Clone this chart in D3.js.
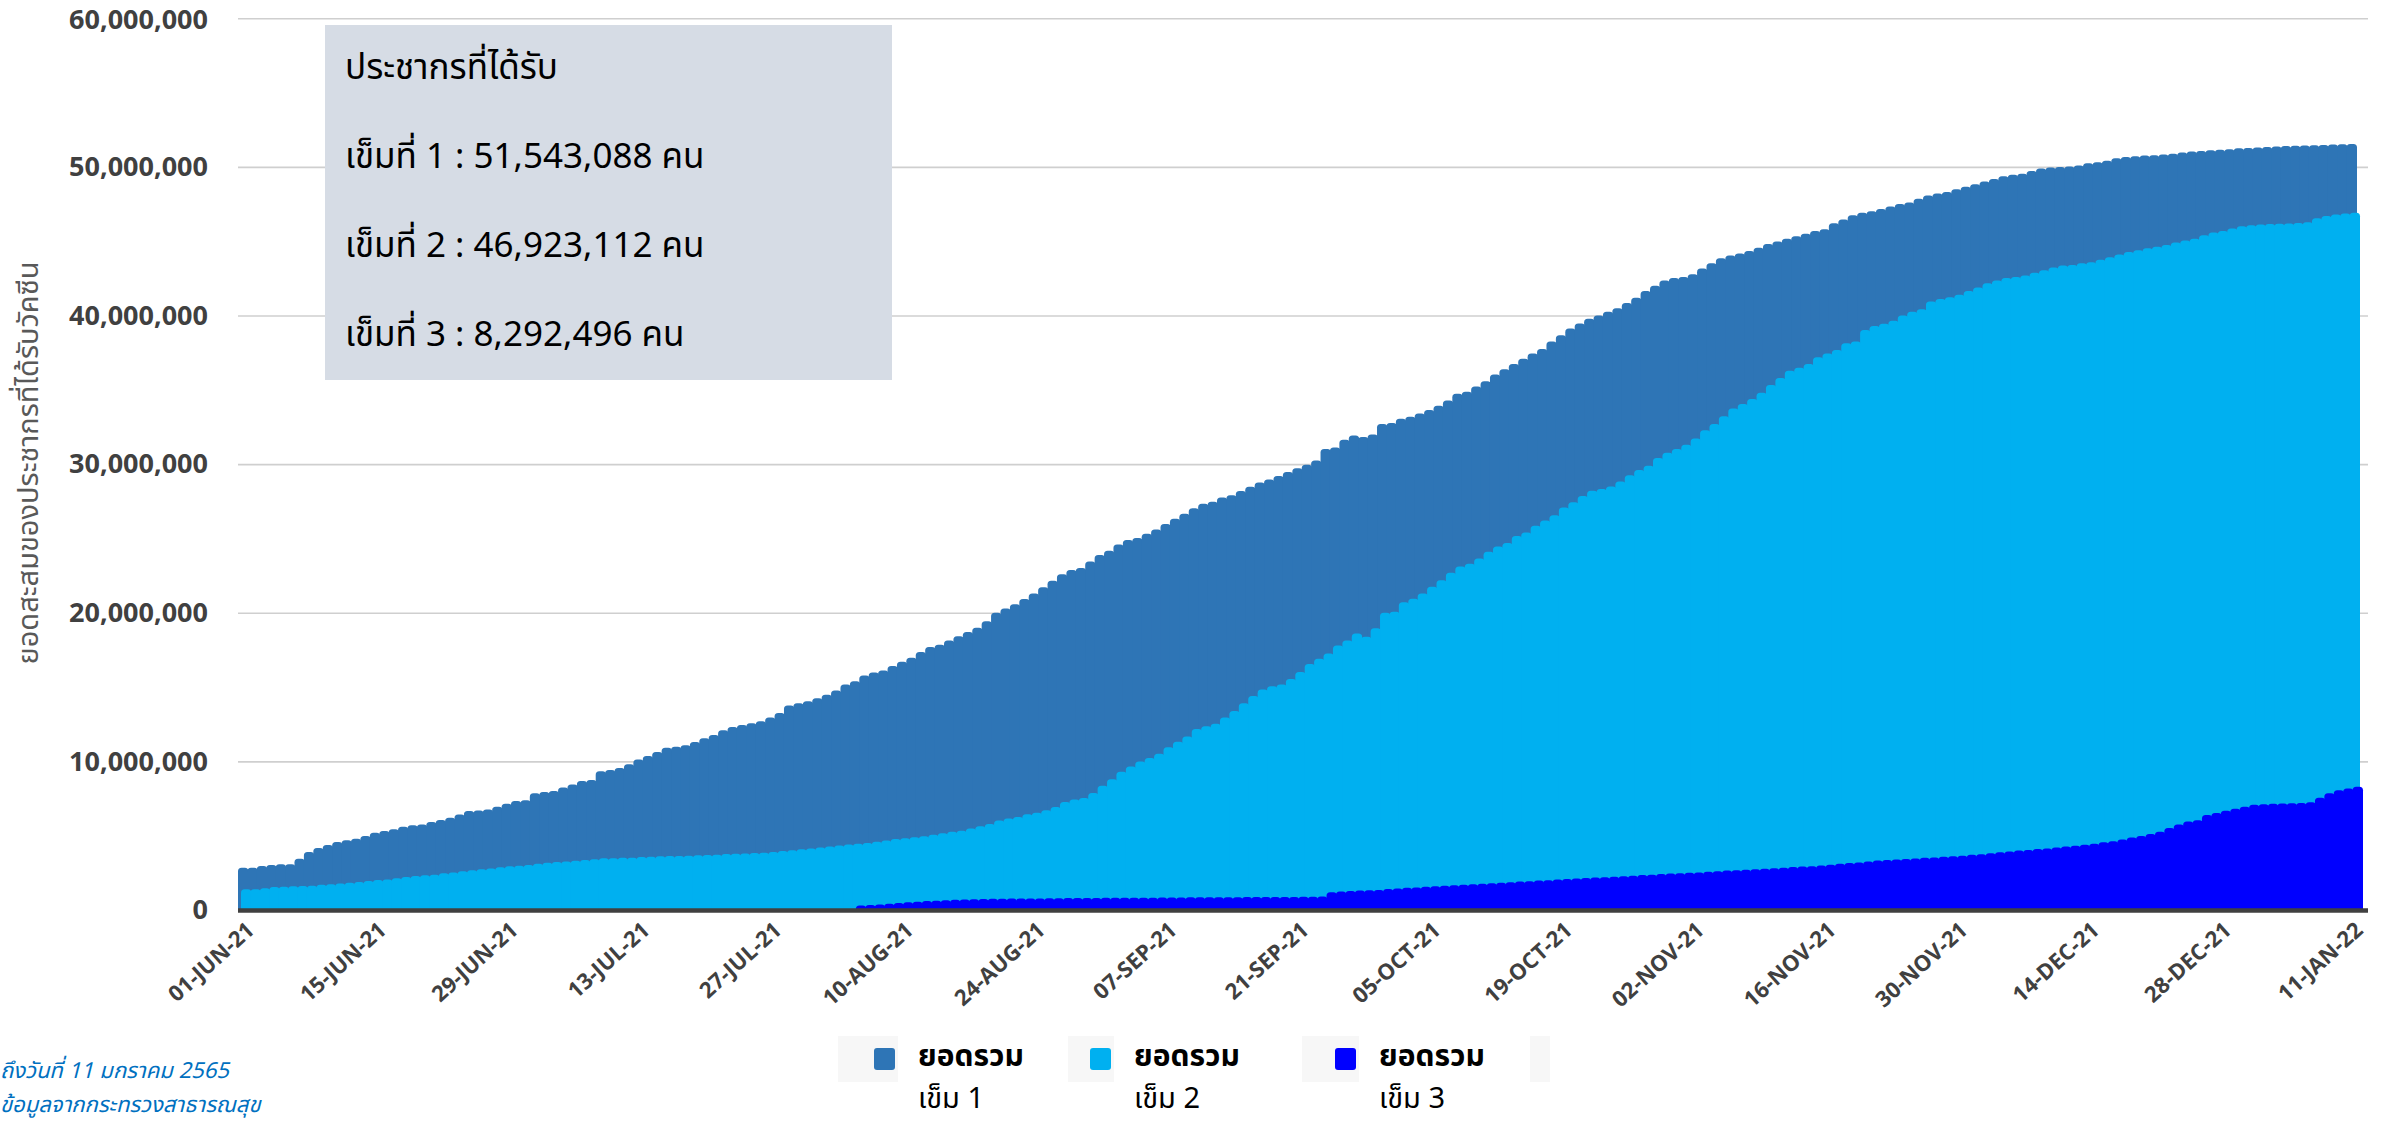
<!DOCTYPE html>
<html>
<head>
<meta charset="utf-8">
<script src="https://cdn.jsdelivr.net/npm/d3@7"></script>
<style>
  html, body { margin: 0; padding: 0; background: #ffffff; overflow: hidden; }
  svg { display: block; }
</style>
</head>
<body>
<svg id="chart" width="2391" height="1121"></svg>
<script>
// ---- data -------------------------------------------------------------
// Daily cumulative number of people vaccinated, in millions, 01-JUN-21 .. 11-JAN-22
const firstDay = "2021-06-01";
const lastDay = "2022-01-11";

const tickLabels = [
  "01-JUN-21", "15-JUN-21", "29-JUN-21", "13-JUL-21", "27-JUL-21", "10-AUG-21",
  "24-AUG-21", "07-SEP-21", "21-SEP-21", "05-OCT-21", "19-OCT-21", "02-NOV-21",
  "16-NOV-21", "30-NOV-21", "14-DEC-21", "28-DEC-21", "11-JAN-22"
];

const yTicks = [0, 10000000, 20000000, 30000000, 40000000, 50000000, 60000000];

const seriesNames = ["ยอดรวม เข็ม 1", "ยอดรวม เข็ม 2", "ยอดรวม เข็ม 3"];
const seriesColors = ["#2e75b6", "#00b0f0", "#0000ff"];

const dose1 = [
  2.85, 2.85, 2.96, 3.02, 3.07, 3.07, 3.45, 3.90, 4.17, 4.37,
  4.57, 4.70, 4.80, 4.98, 5.20, 5.31, 5.43, 5.60, 5.70, 5.76,
  5.92, 6.05, 6.20, 6.43, 6.66, 6.70, 6.77, 6.95, 7.15, 7.33,
  7.38, 7.85, 7.94, 8.00, 8.25, 8.45, 8.68, 8.74, 9.33, 9.42,
  9.55, 9.80, 10.13, 10.36, 10.63, 10.92, 10.99, 11.08, 11.30, 11.55,
  11.77, 12.09, 12.31, 12.44, 12.56, 12.70, 12.96, 13.25, 13.76, 13.91,
  14.05, 14.25, 14.48, 14.77, 15.17, 15.40, 15.78, 15.98, 16.12, 16.41,
  16.70, 16.98, 17.36, 17.70, 17.84, 18.13, 18.42, 18.71, 18.99, 19.43,
  20.00, 20.29, 20.57, 20.92, 21.29, 21.72, 22.16, 22.59, 22.87, 23.02,
  23.45, 23.88, 24.17, 24.60, 24.89, 25.03, 25.32, 25.60, 25.98, 26.32,
  26.67, 27.04, 27.33, 27.47, 27.76, 27.90, 28.19, 28.48, 28.76, 28.97,
  29.20, 29.48, 29.72, 29.96, 30.25, 31.02, 31.12, 31.65, 31.93, 31.82,
  32.00, 32.70, 32.77, 33.05, 33.19, 33.40, 33.65, 33.93, 34.28, 34.74,
  34.88, 35.23, 35.58, 36.04, 36.39, 36.74, 37.09, 37.44, 37.75, 38.25,
  38.67, 39.12, 39.47, 39.79, 40.00, 40.25, 40.49, 40.84, 41.19, 41.65,
  42.00, 42.35, 42.53, 42.60, 42.77, 43.16, 43.51, 43.86, 44.04, 44.18,
  44.35, 44.56, 44.81, 44.98, 45.16, 45.33, 45.51, 45.68, 45.80, 46.21,
  46.46, 46.74, 46.91, 47.02, 47.16, 47.33, 47.51, 47.61, 47.86, 48.07,
  48.21, 48.32, 48.49, 48.67, 48.84, 49.02, 49.19, 49.37, 49.47, 49.54,
  49.72, 49.89, 49.96, 50.00, 50.03, 50.10, 50.25, 50.32, 50.42, 50.58,
  50.66, 50.72, 50.76, 50.79, 50.83, 50.89, 50.97, 51.03, 51.07, 51.12,
  51.15, 51.19, 51.25, 51.28, 51.31, 51.34, 51.37, 51.40, 51.42, 51.44,
  51.46, 51.48, 51.50, 51.52, 51.543088
];

const dose2 = [
  1.39, 1.39, 1.46, 1.55, 1.57, 1.59, 1.61, 1.64, 1.70, 1.73,
  1.79, 1.84, 1.88, 1.95, 2.02, 2.06, 2.13, 2.22, 2.29, 2.33,
  2.38, 2.47, 2.53, 2.60, 2.67, 2.74, 2.80, 2.87, 2.94, 2.98,
  3.03, 3.12, 3.18, 3.23, 3.27, 3.32, 3.36, 3.41, 3.48, 3.48,
  3.52, 3.52, 3.57, 3.59, 3.61, 3.63, 3.63, 3.65, 3.68, 3.70,
  3.72, 3.77, 3.79, 3.81, 3.83, 3.86, 3.91, 3.97, 4.02, 4.08,
  4.14, 4.20, 4.28, 4.34, 4.40, 4.45, 4.51, 4.60, 4.68, 4.77,
  4.83, 4.89, 4.97, 5.06, 5.17, 5.26, 5.34, 5.49, 5.63, 5.78,
  6.03, 6.15, 6.26, 6.44, 6.55, 6.72, 6.93, 7.27, 7.44, 7.53,
  7.87, 8.36, 8.79, 9.31, 9.66, 10.00, 10.23, 10.52, 10.95, 11.32,
  11.67, 12.18, 12.36, 12.53, 12.96, 13.39, 13.91, 14.40, 14.83, 15.06,
  15.17, 15.55, 16.02, 16.56, 16.91, 17.26, 17.79, 18.14, 18.60, 18.39,
  18.95, 20.00, 20.07, 20.70, 20.95, 21.30, 21.75, 22.18, 22.70, 23.12,
  23.30, 23.65, 24.11, 24.46, 24.70, 25.16, 25.40, 25.86, 26.21, 26.56,
  27.09, 27.44, 27.86, 28.21, 28.32, 28.49, 28.84, 29.26, 29.61, 29.89,
  30.42, 30.77, 31.02, 31.30, 31.72, 32.28, 32.70, 33.23, 33.75, 34.04,
  34.39, 34.81, 35.33, 35.79, 36.28, 36.49, 36.74, 37.19, 37.45, 37.68,
  38.14, 38.25, 39.02, 39.30, 39.44, 39.65, 40.00, 40.25, 40.42, 40.95,
  41.12, 41.23, 41.40, 41.65, 41.89, 42.18, 42.35, 42.53, 42.60, 42.70,
  42.88, 43.05, 43.23, 43.37, 43.40, 43.51, 43.58, 43.75, 43.93, 44.11,
  44.28, 44.39, 44.53, 44.63, 44.74, 44.91, 45.05, 45.16, 45.40, 45.58,
  45.68, 45.86, 46.00, 46.08, 46.13, 46.16, 46.18, 46.19, 46.22, 46.28,
  46.55, 46.70, 46.80, 46.87, 46.923112
];

// third doses start on 05-AUG-21
const dose3 = [
  null, null, null, null, null, null, null, null, null, null,
  null, null, null, null, null, null, null, null, null, null,
  null, null, null, null, null, null, null, null, null, null,
  null, null, null, null, null, null, null, null, null, null,
  null, null, null, null, null, null, null, null, null, null,
  null, null, null, null, null, null, null, null, null, null,
  null, null, null, null, null, 0.30, 0.33, 0.37, 0.42, 0.47,
  0.52, 0.56, 0.60, 0.63, 0.66, 0.69, 0.71, 0.72, 0.74, 0.75,
  0.76, 0.77, 0.77, 0.78, 0.78, 0.79, 0.79, 0.80, 0.80, 0.81,
  0.81, 0.82, 0.82, 0.82, 0.83, 0.83, 0.83, 0.84, 0.84, 0.84,
  0.85, 0.85, 0.85, 0.86, 0.86, 0.86, 0.87, 0.87, 0.87, 0.88,
  0.88, 0.88, 0.89, 0.89, 0.90, 1.20, 1.24, 1.28, 1.31, 1.33,
  1.35, 1.42, 1.45, 1.49, 1.52, 1.56, 1.59, 1.63, 1.66, 1.70,
  1.73, 1.77, 1.80, 1.84, 1.87, 1.91, 1.94, 1.98, 2.01, 2.05,
  2.08, 2.12, 2.15, 2.19, 2.21, 2.24, 2.27, 2.31, 2.35, 2.38,
  2.42, 2.45, 2.48, 2.50, 2.52, 2.57, 2.61, 2.65, 2.68, 2.71,
  2.74, 2.77, 2.81, 2.85, 2.89, 2.92, 2.95, 2.99, 3.05, 3.12,
  3.16, 3.19, 3.26, 3.33, 3.37, 3.40, 3.44, 3.47, 3.51, 3.54,
  3.58, 3.61, 3.65, 3.72, 3.75, 3.82, 3.89, 3.93, 4.00, 4.04,
  4.11, 4.14, 4.21, 4.28, 4.32, 4.39, 4.46, 4.56, 4.63, 4.74,
  4.88, 4.98, 5.12, 5.26, 5.51, 5.75, 5.96, 6.04, 6.39, 6.53,
  6.67, 6.81, 6.95, 7.08, 7.12, 7.15, 7.17, 7.19, 7.20, 7.25,
  7.55, 7.85, 8.05, 8.18, 8.292496
];

const summaryTitle = "ประชากรที่ได้รับ";
const footnotes = ["ถึงวันที่ 11 มกราคม 2565", "ข้อมูลจากกระทรวงสาธารณสุข"];
const yTitle = "ยอดสะสมของประชากรที่ได้รับวัคซีน";

// ---- setup ------------------------------------------------------------
const toPeople = v => (v == null ? null : Math.round(v * 1e6));
const parseISO = d3.utcParse("%Y-%m-%d");
const parseTick = d3.utcParse("%d-%b-%y");
const keyFmt = d3.utcFormat("%Y-%m-%d");

const days = d3.utcDay.range(parseISO(firstDay), d3.utcDay.offset(parseISO(lastDay), 1));
const categories = days.map(keyFmt);
const series = [dose1, dose2, dose3].map((vals, k) => ({
  name: seriesNames[k],
  color: seriesColors[k],
  values: vals.map((v, i) => ({ key: categories[i], value: toPeople(v) }))
}));

const svg = d3.select("#chart");
const plot = { left: 238, right: 2356, top: 18.3, bottom: 910, gridRight: 2368 };

const x = d3.scaleBand().domain(categories).range([plot.left, plot.right]).padding(0);
const y = d3.scaleLinear().domain([0, 60000000]).range([plot.bottom, plot.top]);
const fmt = d3.format(",");

const thaiFont = "'Noto Sans Thai', 'Noto Sans', sans-serif";
const latinFont = "'Open Sans', 'DejaVu Sans', sans-serif";

// ---- gridlines + y axis ----------------------------------------------
const yAxis = d3.axisLeft(y)
  .tickValues(yTicks)
  .tickFormat(fmt)
  .tickSize(-(plot.gridRight - plot.left))
  .tickPadding(30);

const gy = svg.append("g")
  .attr("transform", `translate(${plot.left},0)`)
  .call(yAxis);
gy.select(".domain").remove();
gy.selectAll(".tick line")
  .attr("stroke", "#cfcfcf")
  .attr("stroke-width", 1.6)
  .attr("opacity", d => (d === 0 ? 0 : 1));
gy.selectAll(".tick text")
  .attr("fill", "#404040")
  .attr("dy", d => (d === 60000000 ? "0.36em" : "0.32em"))
  .style("font-family", latinFont)
  .style("font-weight", 700)
  .style("font-size", "27px");

// ---- bars (rounded tops, each series nudged a little to the right) ---
function barPath(x0, w, yTop, yBase) {
  const r = Math.min(3.6, w / 2, Math.max(0, yBase - yTop));
  const x1 = x0 + w;
  return `M${x0},${yBase}V${yTop + r}A${r},${r} 0 0 1 ${x0 + r},${yTop}` +
         `H${x1 - r}A${r},${r} 0 0 1 ${x1},${yTop + r}V${yBase}Z`;
}

series.forEach((s, k) => {
  svg.append("g")
    .attr("fill", s.color)
    .selectAll("path")
    .data(s.values.filter(d => d.value != null))
    .join("path")
    .attr("d", d => barPath(x(d.key) + k * 3, x.bandwidth() + 1, y(d.value), y(0)));
});

// baseline
svg.append("line")
  .attr("x1", plot.left).attr("x2", plot.gridRight)
  .attr("y1", y(0) + 0.5).attr("y2", y(0) + 0.5)
  .attr("stroke", "#404040").attr("stroke-width", 4.5);

// ---- x axis labels ----------------------------------------------------
svg.append("g")
  .selectAll("text")
  .data(tickLabels)
  .join("text")
  .attr("transform", d => {
    const key = keyFmt(parseTick(d));
    const cx = x(key) + x.bandwidth() / 2;
    return `translate(${cx + 13},${y(0) + 22}) rotate(-42)`;
  })
  .attr("text-anchor", "end")
  .attr("fill", "#404040")
  .style("font-family", latinFont)
  .style("font-weight", 700)
  .style("font-size", "22px")
  .text(d => d);

// ---- y axis title -----------------------------------------------------
svg.append("text")
  .attr("transform", "translate(38,463) rotate(-90)")
  .attr("text-anchor", "middle")
  .attr("fill", "#595959")
  .style("font-family", thaiFont)
  .style("font-size", "29px")
  .text(yTitle);

// ---- summary box ------------------------------------------------------
const box = svg.append("g");
box.append("rect")
  .attr("x", 325).attr("y", 25)
  .attr("width", 567).attr("height", 355)
  .attr("fill", "#d6dce5");
const summaryLines = [summaryTitle].concat(series.map((s, k) =>
  `เข็มที่ ${k + 1} : ${fmt(s.values[s.values.length - 1].value)} คน`));
box.selectAll("text")
  .data(summaryLines)
  .join("text")
  .attr("x", 345)
  .attr("y", (d, i) => 79 + i * 89)
  .attr("fill", "#000000")
  .style("font-family", thaiFont)
  .style("font-size", "35px")
  .text(d => d);

// ---- legend -----------------------------------------------------------
const legendBg = [[838, 60], [1068, 46], [1302, 57], [1530, 20]];
svg.append("g").selectAll("rect")
  .data(legendBg)
  .join("rect")
  .attr("x", d => d[0]).attr("y", 1036)
  .attr("width", d => d[1]).attr("height", 46)
  .attr("fill", "#f7f7f7");

const legendX = [874, 1090, 1335];
const legend = svg.append("g").selectAll("g")
  .data(series)
  .join("g")
  .attr("transform", (d, k) => `translate(${legendX[k]},0)`);
legend.append("rect")
  .attr("x", 0).attr("y", 1048)
  .attr("width", 21).attr("height", 22)
  .attr("rx", 3)
  .attr("fill", d => d.color);
legend.append("text")
  .attr("x", 44).attr("y", 1066)
  .attr("fill", "#000")
  .style("font-family", thaiFont)
  .style("font-weight", 700)
  .style("font-size", "30px")
  .text(d => d.name.split(" ")[0]);
legend.append("text")
  .attr("x", 44).attr("y", 1108)
  .attr("fill", "#000")
  .style("font-family", thaiFont)
  .style("font-size", "29px")
  .text(d => d.name.split(" ").slice(1).join(" "));

// ---- footnotes --------------------------------------------------------
svg.append("g").selectAll("text")
  .data(footnotes)
  .join("text")
  .attr("x", 0)
  .attr("y", (d, i) => 1078 + i * 34)
  .attr("fill", "#0070c0")
  .style("font-family", thaiFont)
  .style("font-style", "italic")
  .style("font-size", "22px")
  .text(d => d);
</script>
</body>
</html>
